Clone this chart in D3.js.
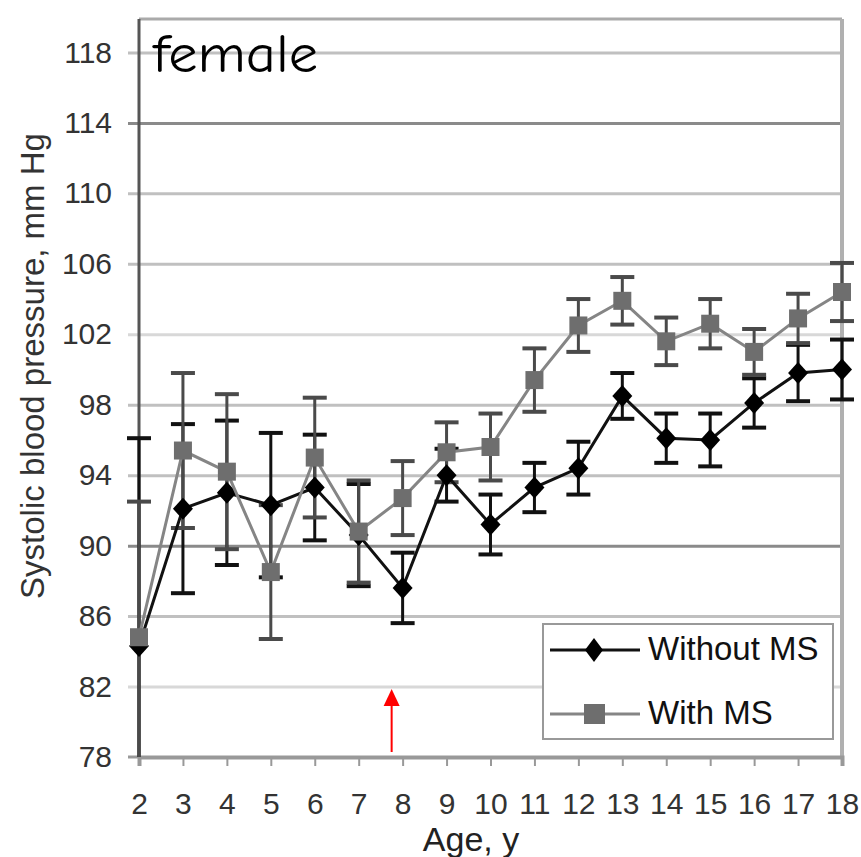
<!DOCTYPE html>
<html>
<head>
<meta charset="utf-8">
<script src="https://cdnjs.cloudflare.com/ajax/libs/d3/7.8.5/d3.min.js"></script>
<style>
  body { margin: 0; background: #fff; }
</style>
</head>
<body>
<div id="chart"></div>
<script>

// data
var ages = [2, 3, 4, 5, 6, 7, 8, 9, 10, 11, 12, 13, 14, 15, 16, 17, 18];
var withoutMS = [84.3, 92.1, 93.0, 92.3, 93.3, 90.6, 87.6, 94.0, 91.2, 93.3, 94.4, 98.5, 96.1, 96.0, 98.1, 99.8, 100.0];
var withoutErr = [11.8, 4.8, 4.1, 4.1, 3.0, 2.9, 2.0, 1.5, 1.7, 1.4, 1.5, 1.3, 1.4, 1.5, 1.4, 1.6, 1.7];
var withMS = [84.8, 95.4, 94.2, 88.5, 95.0, 90.8, 92.7, 95.3, 95.6, 99.4, 102.5, 103.9, 101.6, 102.6, 101.0, 102.9, 104.4];
var withErr = [7.7, 4.4, 4.4, 3.8, 3.4, 2.9, 2.1, 1.7, 1.9, 1.8, 1.5, 1.35, 1.35, 1.4, 1.3, 1.4, 1.65];
var yTicks = [78, 82, 86, 90, 94, 98, 102, 106, 110, 114, 118];
var seriesNames = ["Without MS", "With MS"];
var arrowAge = 7.75;

// size of svg
var w_svg = 861;
var h_svg = 857;

// plot area
var left = 139, right = 842, top_ = 19, bottom = 757;

var svg = d3.select("#chart")
  .append("svg")
    .attr("width", w_svg)
    .attr("height", h_svg)
    .style("font-family", "'Liberation Sans', Arial, sans-serif");

// scales
var xScale = d3.scaleLinear().domain([2, 18]).range([left, right]);
var yScale = d3.scaleLinear().domain([78, 119.9]).range([bottom, top_]);

// y axis + gridlines
var y_axis = d3.axisLeft(yScale)
  .tickValues(yTicks)
  .tickSize(-(right - 128))
  .tickPadding(16)
  .tickFormat(d3.format("d"));

var gy = svg.append("g")
  .attr("transform", "translate(128,0)")
  .call(y_axis);
gy.select(".domain").remove();
gy.selectAll(".tick line")
  .attr("stroke", function(d) {
    if (d == 114 || d == 90) return "#8a8a8a";
    if (d == 102 || d == 82) return "#d8d8d8";
    return "#c0c0c0";
  })
  .attr("stroke-width", 3)
  .style("display", function(d) { return d == 78 ? "none" : null; });
gy.selectAll(".tick text")
  .attr("font-size", 30)
  .attr("fill", "#333")
  .attr("font-family", "'Liberation Sans', Arial, sans-serif");

// small tick left of axis for 78
svg.append("line")
  .attr("x1", 128).attr("x2", left)
  .attr("y1", yScale(78)).attr("y2", yScale(78))
  .attr("stroke", "#999").attr("stroke-width", 3);

// top & right border
svg.append("line")
  .attr("x1", left).attr("x2", right)
  .attr("y1", top_).attr("y2", top_)
  .attr("stroke", "#aaa").attr("stroke-width", 3);
svg.append("line")
  .attr("x1", right).attr("x2", right)
  .attr("y1", top_).attr("y2", bottom)
  .attr("stroke", "#b0b0b0").attr("stroke-width", 4);

// x axis
var x_axis = d3.axisBottom(xScale)
  .tickValues(ages)
  .tickSize(9)
  .tickPadding(27)
  .tickFormat(d3.format("d"));

var gx = svg.append("g")
  .attr("transform", "translate(0," + bottom + ")")
  .call(x_axis);
gx.select(".domain")
  .attr("stroke", "#999")
  .attr("stroke-width", 4);
gx.selectAll(".tick line")
  .attr("stroke", "#999")
  .attr("stroke-width", 2);
gx.selectAll(".tick text")
  .attr("font-size", 30)
  .attr("fill", "#333")
  .attr("font-family", "'Liberation Sans', Arial, sans-serif");

// left axis line
svg.append("line")
  .attr("x1", left).attr("x2", left)
  .attr("y1", top_).attr("y2", bottom)
  .attr("stroke", "#555").attr("stroke-width", 3);

// axis labels
svg.append("text")
  .attr("x", 471)
  .attr("y", 851)
  .attr("text-anchor", "middle")
  .attr("font-size", 34)
  .attr("fill", "#222")
  .text("Age, y");

svg.append("text")
  .attr("transform", "translate(44,366) rotate(-90)")
  .attr("text-anchor", "middle")
  .attr("font-size", 33)
  .attr("fill", "#333")
  .text("Systolic blood pressure, mm Hg");

// series settings
var series = [
  { name: seriesNames[0], vals: withoutMS, errs: withoutErr, line: "#111", bar: "#111", mark: "diamond", fill: "#000" },
  { name: seriesNames[1], vals: withMS, errs: withErr, line: "#858585", bar: "#4a4a4a", mark: "square", fill: "#6e6e6e" }
];

var diamond = "M0,-11L10,0L0,11L-10,0Z";

// error bars
series.forEach(function(s) {
  var g = svg.append("g");
  ages.forEach(function(a, i) {
    var lo = Math.max(78, s.vals[i] - s.errs[i]);
    var hi = s.vals[i] + s.errs[i];
    var x = xScale(a);
    g.append("line")
      .attr("x1", x).attr("x2", x)
      .attr("y1", yScale(lo)).attr("y2", yScale(hi))
      .attr("stroke", s.bar).attr("stroke-width", 3);
    g.append("line")
      .attr("x1", x - 12).attr("x2", x + 12)
      .attr("y1", yScale(hi)).attr("y2", yScale(hi))
      .attr("stroke", s.bar).attr("stroke-width", 4);
    if (s.vals[i] - s.errs[i] > 78) {
      g.append("line")
        .attr("x1", x - 12).attr("x2", x + 12)
        .attr("y1", yScale(lo)).attr("y2", yScale(lo))
        .attr("stroke", s.bar).attr("stroke-width", 4);
    }
  });
});

// lines and markers
var line = d3.line()
  .x(function(d) { return xScale(d[0]); })
  .y(function(d) { return yScale(d[1]); });

series.forEach(function(s) {
  var pts = ages.map(function(a, i) { return [a, s.vals[i]]; });
  svg.append("path")
    .attr("d", line(pts))
    .attr("fill", "none")
    .attr("stroke", s.line)
    .attr("stroke-width", 3);

  if (s.mark == "diamond") {
    svg.selectAll(null)
      .data(pts)
      .enter()
      .append("path")
        .attr("d", diamond)
        .attr("transform", function(d) { return "translate(" + xScale(d[0]) + "," + yScale(d[1]) + ")"; })
        .attr("fill", s.fill);
  } else {
    svg.selectAll(null)
      .data(pts)
      .enter()
      .append("rect")
        .attr("x", function(d) { return xScale(d[0]) - 9; })
        .attr("y", function(d) { return yScale(d[1]) - 9; })
        .attr("width", 18)
        .attr("height", 18)
        .attr("fill", s.fill);
  }
});

// legend
var leg = svg.append("g");
leg.append("rect")
  .attr("x", 543).attr("y", 624)
  .attr("width", 290).attr("height", 115)
  .attr("fill", "#fff")
  .attr("stroke", "#999")
  .attr("stroke-width", 2);

series.forEach(function(s, i) {
  var ly = 650 + i * 64;
  leg.append("line")
    .attr("x1", 550).attr("x2", 640)
    .attr("y1", ly).attr("y2", ly)
    .attr("stroke", s.line).attr("stroke-width", 3);
  if (s.mark == "diamond") {
    leg.append("path")
      .attr("d", "M0,-12L9,0L0,12L-9,0Z")
      .attr("transform", "translate(594," + ly + ")")
      .attr("fill", s.fill);
  } else {
    leg.append("rect")
      .attr("x", 584).attr("y", ly - 10)
      .attr("width", 21).attr("height", 20)
      .attr("fill", s.fill);
  }
  leg.append("text")
    .attr("x", 648)
    .attr("y", ly + 10)
    .attr("font-size", 33)
    .attr("fill", "#111")
    .text(s.name);
});

// red arrow
var ax = xScale(arrowAge);
svg.append("line")
  .attr("x1", ax).attr("x2", ax)
  .attr("y1", 752).attr("y2", 700)
  .attr("stroke", "#ff0000").attr("stroke-width", 2);
svg.append("path")
  .attr("d", "M" + (ax - 8) + ",706L" + ax + ",689L" + (ax + 8) + ",706Z")
  .attr("fill", "#ff0000");

// title inside plot
svg.append("text")
  .attr("x", 153)
  .attr("y", 72)
  .attr("font-size", 54)
  .attr("font-family", "'Comic Sans MS', 'Comic Neue', 'DejaVu Sans', sans-serif")
  .attr("textLength", 165)
  .attr("lengthAdjust", "spacingAndGlyphs")
  .attr("fill", "#000")
  .text("female");

</script>
</body>
</html>
